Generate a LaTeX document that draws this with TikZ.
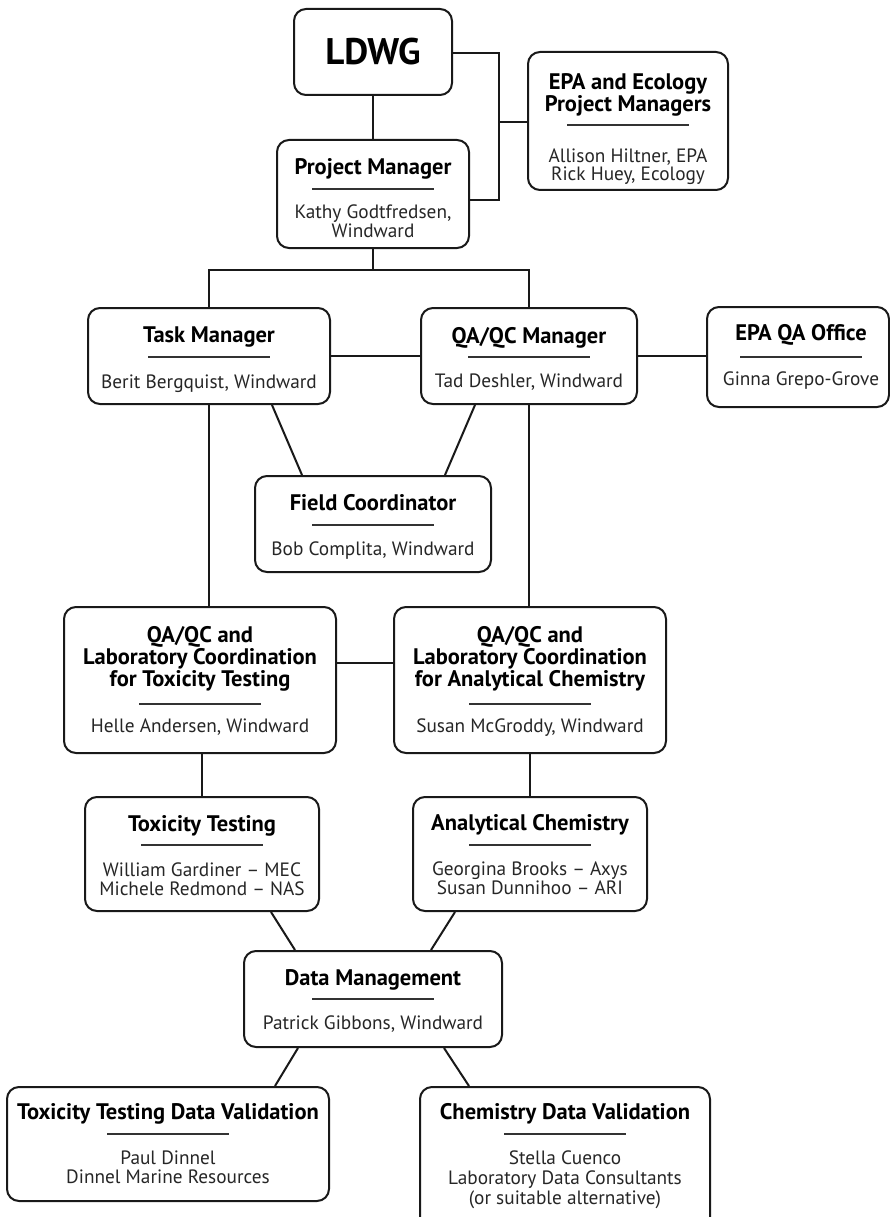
\documentclass[tikz,border=0pt]{standalone}
\usepackage{fontspec}
\setmainfont{PT Sans}
\begin{document}
\begin{tikzpicture}[x=1pt,y=-1pt,
  box/.style={draw=black!90, line width=2pt, rounded corners=12pt, fill=white, inner sep=0pt},
  conn/.style={draw=black!90, line width=2pt},
  ttl/.style={anchor=base, inner sep=0pt, font=\fontsize{22.5}{26}\selectfont\bfseries},
  nm/.style={anchor=base, inner sep=0pt, font=\fontsize{19.3}{23}\selectfont, text=black!85},
  rl/.style={draw=black!80, line width=1.5pt}]
\clip (0,0) rectangle (890,1217);
\useasboundingbox (0,0) rectangle (890,1217);
\fill[white] (0,0) rectangle (890,1217);

% boxes
\node[box, minimum width=158pt, minimum height=86pt] (ldwg) at (373,52) {};
\node[box, minimum width=192pt, minimum height=108pt] (pm) at (373,194) {};
\node[box, minimum width=200pt, minimum height=138pt] (epa) at (628,121) {};
\node[box, minimum width=242pt, minimum height=96pt] (tm) at (209,356) {};
\node[box, minimum width=216pt, minimum height=96pt] (qa) at (529,356) {};
\node[box, minimum width=182pt, minimum height=100pt] (eqa) at (798,357) {};
\node[box, minimum width=236pt, minimum height=96pt] (fc) at (373,524) {};
\node[box, minimum width=272pt, minimum height=146pt] (tl) at (200,680) {};
\node[box, minimum width=272pt, minimum height=146pt] (cl) at (530,680) {};
\node[box, minimum width=234pt, minimum height=114pt] (tt) at (202,854) {};
\node[box, minimum width=234pt, minimum height=114pt] (ac) at (530,854) {};
\node[box, minimum width=258pt, minimum height=96pt] (dm) at (373,999) {};
\node[box, minimum width=322pt, minimum height=114pt] (tv) at (168,1144) {};
\node[box, minimum width=290pt, minimum height=150pt] (cv) at (565,1162) {};

% connector helper coordinates
\coordinate (jt) at (499,53);
\coordinate (jm) at (499,122);
\coordinate (jb) at (499,200);
\coordinate (bl) at (209,270);
\coordinate (br) at (529,270);
\coordinate (lk) at (365,663);

% connectors
\draw[conn] (ldwg.south) -- (ldwg.south |- pm.north);
\draw[conn] (ldwg.east |- jt) -- (jt) -- (jb) -- (pm.east |- jb);
\draw[conn] (jm) -- (epa.west |- jm);
\draw[conn] (pm.south) -- (pm.south |- bl);
\draw[conn] (tm.north) -- (bl) -- (br) -- (qa.north);
\draw[conn] (tm.east) -- (qa.west);
\draw[conn] (qa.east) -- (eqa.west |- qa.east);
\draw[conn] ([xshift=63pt]tm.south) -- ([xshift=-71pt]fc.north);
\draw[conn] ([xshift=-54pt]qa.south) -- ([xshift=72pt]fc.north);
\draw[conn] (tm.south) -- (tm.south |- tl.north);
\draw[conn] (qa.south) -- (qa.south |- cl.north);
\draw[conn] (tl.east |- lk) -- (cl.west |- lk);
\draw[conn] (tt.north |- tl.south) -- (tt.north);
\draw[conn] (ac.north |- cl.south) -- (ac.north);
\draw[conn] ([xshift=69pt]tt.south) -- ([xshift=-78pt]dm.north);
\draw[conn] ([xshift=-75pt]ac.south) -- ([xshift=58pt]dm.north);
\draw[conn] ([xshift=-75pt]dm.south) -- ([xshift=107pt]tv.north);
\draw[conn] ([xshift=71pt]dm.south) -- ([xshift=-96pt]cv.north);

% LDWG
\node[anchor=base, inner sep=0pt, font=\fontsize{37}{40}\selectfont\bfseries] (ldwg-t) at (373,65) {LDWG};

% Project Manager
\node[ttl] (pm-t) at (373,175) {Project Manager};
\draw[rl] (312,189) -- (434,189);
\node[nm] (pm-n1) at (373,218) {Kathy Godtfredsen,};
\node[nm] (pm-n2) at (373,237) {Windward};

% EPA and Ecology
\node[ttl] (epa-t1) at (628,90) {EPA and Ecology};
\node[ttl] (epa-t2) at (628,112) {Project Managers};
\draw[rl] (567,125) -- (689,125);
\node[nm] (epa-n1) at (628,163) {Allison Hiltner, EPA};
\node[nm] (epa-n2) at (628,181) {Rick Huey, Ecology};

% Task Manager
\node[ttl] (tm-t) at (209,342) {Task Manager};
\draw[rl] (148,357) -- (270,357);
\node[nm] (tm-n) at (209,388) {Berit Bergquist, Windward};

% QA/QC Manager
\node[ttl] (qa-t) at (529,343) {QA/QC Manager};
\draw[rl] (468,357) -- (590,357);
\node[nm] (qa-n) at (529,387) {Tad Deshler, Windward};

% EPA QA Office
\node[ttl] (eqa-t) at (801,340) {EPA QA Office};
\draw[rl] (740,357) -- (862,357);
\node[nm] (eqa-n) at (801,385) {Ginna Grepo-Grove};

% Field Coordinator
\node[ttl] (fc-t) at (373,510) {Field Coordinator};
\draw[rl] (312,525) -- (434,525);
\node[nm] (fc-n) at (373,555) {Bob Complita, Windward};

% QA/QC Lab tox
\node[ttl] (tl-t1) at (200,642) {QA/QC and};
\node[ttl] (tl-t2) at (200,664) {Laboratory Coordination};
\node[ttl] (tl-t3) at (200,686) {for Toxicity Testing};
\draw[rl] (139,704) -- (261,704);
\node[nm] (tl-n) at (200,732) {Helle Andersen, Windward};

% QA/QC Lab chem
\node[ttl] (cl-t1) at (530,642) {QA/QC and};
\node[ttl] (cl-t2) at (530,664) {Laboratory Coordination};
\node[ttl] (cl-t3) at (530,686) {for Analytical Chemistry};
\draw[rl] (469,704) -- (591,704);
\node[nm] (cl-n) at (530,732) {Susan McGroddy, Windward};

% Toxicity Testing
\node[ttl] (tt-t) at (202,831) {Toxicity Testing};
\draw[rl] (141,845) -- (263,845);
\node[nm] (tt-n1) at (202,876) {William Gardiner – MEC};
\node[nm] (tt-n2) at (202,895) {Michele Redmond – NAS};

% Analytical Chemistry
\node[ttl] (ac-t) at (530,830) {Analytical Chemistry};
\draw[rl] (469,845) -- (591,845);
\node[nm] (ac-n1) at (530,875) {Georgina Brooks – Axys};
\node[nm] (ac-n2) at (530,894) {Susan Dunnihoo – ARI};

% Data Management
\node[ttl] (dm-t) at (373,985) {Data Management};
\draw[rl] (312,999) -- (434,999);
\node[nm] (dm-n) at (373,1029) {Patrick Gibbons, Windward};

% Toxicity Testing Data Validation
\node[ttl] (tv-t) at (168,1119) {Toxicity Testing Data Validation};
\draw[rl] (107,1134) -- (229,1134);
\node[nm] (tv-n1) at (168,1164) {Paul Dinnel};
\node[nm] (tv-n2) at (168,1183) {Dinnel Marine Resources};

% Chemistry Data Validation
\node[ttl] (cv-t) at (565,1119) {Chemistry Data Validation};
\draw[rl] (504,1134) -- (626,1134);
\node[nm] (cv-n1) at (565,1164) {Stella Cuenco};
\node[nm] (cv-n2) at (565,1184) {Laboratory Data Consultants};
\node[nm] (cv-n3) at (565,1204) {(or suitable alternative)};
\end{tikzpicture}
\end{document}
